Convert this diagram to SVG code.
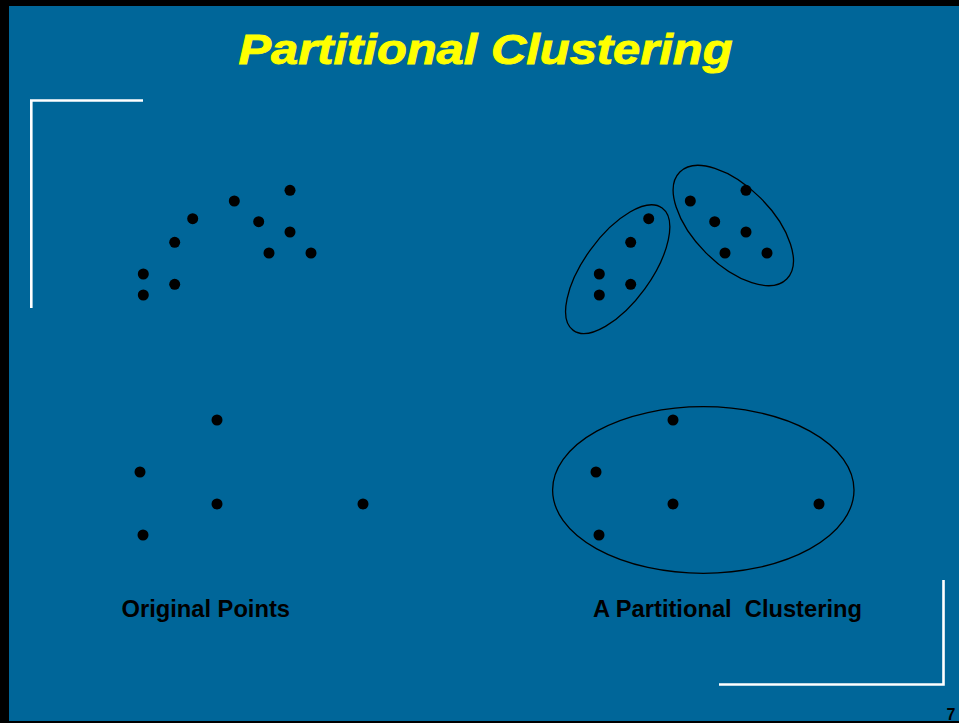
<svg xmlns="http://www.w3.org/2000/svg" width="959" height="723" viewBox="0 0 959 723">
<style>
.pt{fill:#000}
.cl{fill:none;stroke:#000;stroke-width:1.3}
.frame{fill:none;stroke:#fff;stroke-width:2.6}
.lbl{font-family:"Liberation Sans",Arial,sans-serif;font-weight:bold;font-size:23.7px;fill:#000}
</style>
<rect x="0" y="0" width="959" height="723" fill="#000"/>
<rect x="9" y="6" width="950" height="715" fill="#006699"/>
<text x="485.5" y="64" text-anchor="middle" font-family="'Liberation Sans',Arial,sans-serif" font-weight="bold" font-style="italic" font-size="42" fill="#ffff00" stroke="#ffff00" stroke-width="0.9" textLength="494" lengthAdjust="spacingAndGlyphs">Partitional Clustering</text>
<g id="decor">
<polyline class="frame" points="143,100.5 31.3,100.5 31.3,308"/>
<polyline class="frame" points="943.5,580 943.5,684.5 719,684.5"/>
</g>
<g id="original-points">
<circle class="pt" cx="143.3" cy="274" r="5.5"/>
<circle class="pt" cx="143.3" cy="295" r="5.5"/>
<circle class="pt" cx="174.7" cy="242.3" r="5.5"/>
<circle class="pt" cx="174.7" cy="284.3" r="5.5"/>
<circle class="pt" cx="192.7" cy="218.7" r="5.5"/>
<circle class="pt" cx="234.3" cy="201" r="5.5"/>
<circle class="pt" cx="258.7" cy="221.7" r="5.5"/>
<circle class="pt" cx="290" cy="190.3" r="5.5"/>
<circle class="pt" cx="290" cy="232" r="5.5"/>
<circle class="pt" cx="269" cy="253" r="5.5"/>
<circle class="pt" cx="311" cy="253" r="5.5"/>
<circle class="pt" cx="217" cy="420" r="5.5"/>
<circle class="pt" cx="140" cy="472" r="5.5"/>
<circle class="pt" cx="217" cy="504" r="5.5"/>
<circle class="pt" cx="363" cy="504" r="5.5"/>
<circle class="pt" cx="143" cy="535" r="5.5"/>
</g>
<g id="clustered-points">
<circle class="pt" cx="599.3" cy="274" r="5.5"/>
<circle class="pt" cx="599.3" cy="295" r="5.5"/>
<circle class="pt" cx="630.7" cy="242.3" r="5.5"/>
<circle class="pt" cx="630.7" cy="284.3" r="5.5"/>
<circle class="pt" cx="648.7" cy="218.7" r="5.5"/>
<circle class="pt" cx="690.3" cy="201" r="5.5"/>
<circle class="pt" cx="714.7" cy="221.7" r="5.5"/>
<circle class="pt" cx="746" cy="190.3" r="5.5"/>
<circle class="pt" cx="746" cy="232" r="5.5"/>
<circle class="pt" cx="725" cy="253" r="5.5"/>
<circle class="pt" cx="767" cy="253" r="5.5"/>
<circle class="pt" cx="673" cy="420" r="5.5"/>
<circle class="pt" cx="596" cy="472" r="5.5"/>
<circle class="pt" cx="673" cy="504" r="5.5"/>
<circle class="pt" cx="819" cy="504" r="5.5"/>
<circle class="pt" cx="599" cy="535" r="5.5"/>
</g>
<g id="clusters">
<ellipse class="cl" cx="617.7" cy="269.2" rx="75.6" ry="33.5" transform="rotate(-54 617.7 269.2)"/>
<ellipse class="cl" cx="733.3" cy="225.5" rx="75.6" ry="38.7" transform="rotate(45 733.3 225.5)"/>
<ellipse class="cl" cx="703.3" cy="490" rx="150.7" ry="83.3"/>
</g>
<text class="lbl" x="121.5" y="617">Original Points</text>
<text class="lbl" x="593" y="617" xml:space="preserve">A Partitional  Clustering</text>
<text x="946.5" y="720" font-family="'Liberation Sans',Arial,sans-serif" font-weight="bold" font-size="16" fill="#000">7</text>
</svg>
